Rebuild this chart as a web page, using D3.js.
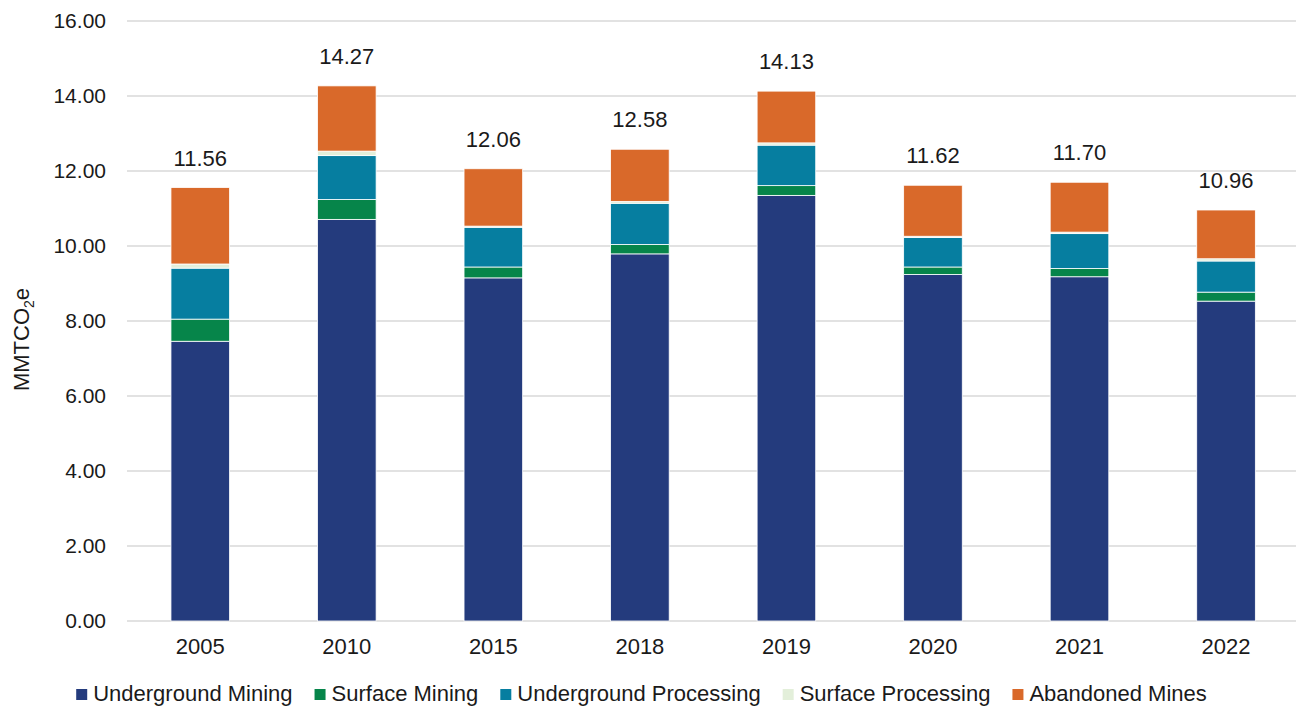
<!DOCTYPE html>
<html>
<head>
<meta charset="utf-8">
<script src="https://cdn.jsdelivr.net/npm/d3@7/dist/d3.min.js"></script>
<style>
  html, body { margin: 0; padding: 0; background: #fff; }
  svg { display: block; font-family: "Liberation Sans", Arial, sans-serif; }
</style>
</head>
<body>
<svg id="chart" width="1296" height="706"></svg>
<script>
// Coal mine methane emissions by source, MMTCO2e
const years = ["2005", "2010", "2015", "2018", "2019", "2020", "2021", "2022"];
const undergroundMining     = [7.46, 10.71, 9.15, 9.79, 11.35, 9.24, 9.18, 8.53];
const surfaceMining         = [0.59, 0.53, 0.29, 0.25, 0.26, 0.20, 0.22, 0.24];
const undergroundProcessing = [1.36, 1.17, 1.06, 1.10, 1.08, 0.79, 0.93, 0.83];
const surfaceProcessing     = [0.11, 0.12, 0.03, 0.05, 0.06, 0.03, 0.04, 0.06];
const abandonedMines        = [2.04, 1.74, 1.53, 1.39, 1.38, 1.36, 1.33, 1.30];
const seriesNames = ["Underground Mining", "Surface Mining", "Underground Processing", "Surface Processing", "Abandoned Mines"];
const seriesColors = ["#243B7D", "#06854A", "#067EA0", "#E3EFDA", "#D9692A"];
const yTicks = [0, 2, 4, 6, 8, 10, 12, 14, 16];

const seriesValues = [undergroundMining, surfaceMining, undergroundProcessing, surfaceProcessing, abandonedMines];
const rows = years.map((yr, i) => {
  const r = { year: yr };
  seriesNames.forEach((n, k) => { r[n] = seriesValues[k][i]; });
  return r;
});
const stacked = d3.stack().keys(seriesNames)(rows);

const svg = d3.select("#chart");
const plotLeft = 127, plotRight = 1299.3, plotTop = 21, plotBottom = 621;

const x = d3.scaleBand().domain(years).range([plotLeft, plotRight]).paddingInner(0.6).paddingOuter(0.3);
const y = d3.scaleLinear().domain([0, 16]).range([plotBottom, plotTop]);
const color = d3.scaleOrdinal().domain(seriesNames).range(seriesColors);

// horizontal gridlines (the zero line doubles as the category axis)
svg.append("g")
  .selectAll("line")
  .data(yTicks)
  .join("line")
  .attr("x1", plotLeft).attr("x2", 1296)
  .attr("y1", d => y(d)).attr("y2", d => y(d))
  .attr("stroke", "#d9d9d9")
  .attr("stroke-width", 1.5);

// y axis labels
const yAxis = svg.append("g")
  .attr("transform", `translate(${plotLeft - 21},0)`)
  .call(d3.axisLeft(y).tickValues(yTicks).tickFormat(d3.format(".2f")).tickSize(0).tickPadding(0));
yAxis.select(".domain").remove();
yAxis.selectAll("text")
  .attr("font-size", 21)
  .attr("font-family", "'Liberation Sans', Arial, sans-serif")
  .attr("fill", "#1a1a1a");

// y axis title
const yTitle = svg.append("text")
  .attr("transform", "translate(29,339.5) rotate(-90)")
  .attr("text-anchor", "middle")
  .attr("font-size", 22)
  .attr("fill", "#1a1a1a");
yTitle.append("tspan").text("MMTCO");
yTitle.append("tspan").attr("font-size", 14).attr("dy", 5).text("2");
yTitle.append("tspan").attr("dy", -5).text("e");

// stacked bars
svg.append("g")
  .selectAll("g")
  .data(stacked)
  .join("g")
  .attr("fill", d => color(d.key))
  .selectAll("rect")
  .data(d => d)
  .join("rect")
  .attr("x", d => x(d.data.year))
  .attr("width", x.bandwidth())
  .attr("y", d => y(d[1]))
  .attr("height", d => y(d[0]) - y(d[1]))
  .attr("stroke", "#ffffff")
  .attr("stroke-width", 0.8);

// total labels
const totals = years.map((yr, i) => ({ year: yr, total: d3.sum(seriesValues, s => s[i]) }));
svg.append("g")
  .selectAll("text")
  .data(totals)
  .join("text")
  .attr("x", d => x(d.year) + x.bandwidth() / 2)
  .attr("y", d => y(d.total) - 22)
  .attr("text-anchor", "middle")
  .attr("font-size", 22)
  .attr("fill", "#1a1a1a")
  .text(d => d.total.toFixed(2));

// category labels
const xAxis = svg.append("g")
  .attr("transform", `translate(0,${plotBottom})`)
  .call(d3.axisBottom(x).tickSize(0).tickPadding(0));
xAxis.select(".domain").remove();
xAxis.selectAll("text")
  .attr("dy", null)
  .attr("y", 33)
  .attr("font-size", 22)
  .attr("font-family", "'Liberation Sans', Arial, sans-serif")
  .attr("fill", "#1a1a1a");

// legend
const legend = svg.append("g");
const items = legend.selectAll("g")
  .data(seriesNames)
  .join("g");
items.append("rect")
  .attr("width", 11).attr("height", 11)
  .attr("y", 689)
  .attr("fill", d => color(d));
items.append("text")
  .attr("x", 17)
  .attr("y", 701)
  .attr("font-size", 22)
  .attr("fill", "#1a1a1a")
  .text(d => d);
let cursor = 0;
const offsets = [];
items.each(function () {
  const w = d3.select(this).select("text").node().getComputedTextLength();
  offsets.push(cursor);
  cursor += 17 + w + 22;
});
const legendWidth = cursor - 22;
const legendStart = 641.5 - legendWidth / 2;
items.attr("transform", (d, i) => `translate(${legendStart + offsets[i]},0)`);
</script>
</body>
</html>
